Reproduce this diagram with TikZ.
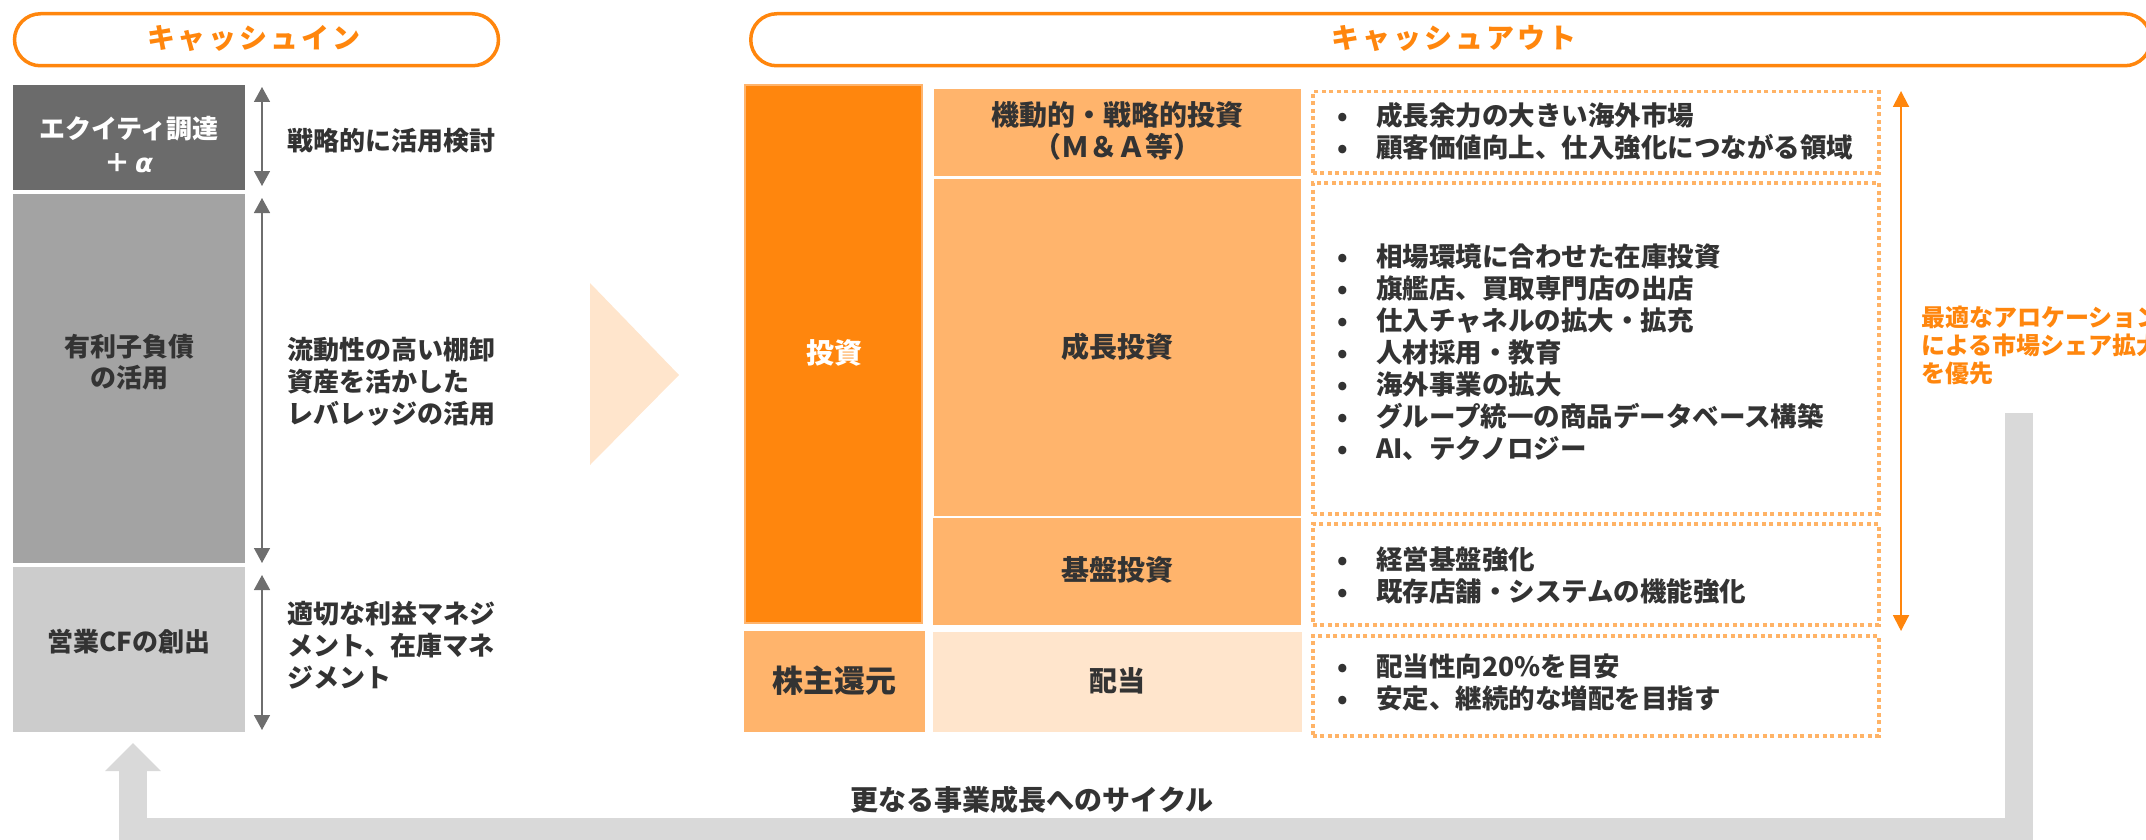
\documentclass[tikz,border=0pt]{standalone}
\usepackage{fontspec}
\setmainfont{Noto Sans CJK JP}
\newfontfamily\dvs{DejaVu Sans}
\usetikzlibrary{arrows.meta}
\definecolor{orgA}{HTML}{FF860D}
\definecolor{orgB}{HTML}{FFB46C}
\definecolor{orgC}{HTML}{FFE5CC}
\definecolor{dotc}{HTML}{FFB366}
\definecolor{grA}{HTML}{6B6B6B}
\definecolor{grB}{HTML}{A3A3A3}
\definecolor{grC}{HTML}{CCCCCC}
\definecolor{grD}{HTML}{D9D9D9}
\definecolor{arrc}{HTML}{6E6E6E}
\definecolor{txt}{HTML}{333333}
\newcommand{\bli}[1]{\makebox[30pt][c]{•}\hspace{18pt}#1}
\begin{document}
\begin{tikzpicture}[x=1pt,y=-1pt,
  blk/.style={draw=none,inner sep=0pt,outer sep=0pt,anchor=north west},
  lbl/.style={font=\fontsize{26}{32}\selectfont\bfseries,text=txt,align=center,inner sep=0pt},
  blbl/.style={font=\fontsize{28}{32}\selectfont\bfseries,text=txt,align=center,inner sep=0pt},
  side/.style={font=\fontsize{26}{32}\selectfont\bfseries,text=txt,align=left,anchor=west,inner sep=0pt},
  bside/.style={font=\fontsize{26.5}{32}\selectfont\bfseries,text=txt,align=left,anchor=west,inner sep=0pt},
  dotbox/.style={draw=dotc,line width=3.5pt,dash pattern=on 4pt off 3.5pt,inner sep=0pt,anchor=north west},
  pill/.style={draw=orgA,line width=3.5pt,rounded corners=26pt,inner sep=0pt,anchor=north west,minimum height=52pt},
  head/.style={font=\fontsize{28}{32}\selectfont\bfseries,text=orgA,inner sep=0pt},
  garrow/.style={draw=arrc,line width=1.5pt,{Triangle[length=15pt,width=16pt]}-{Triangle[length=15pt,width=16pt]}},
  oarrow/.style={draw=orgA,line width=2pt,{Triangle[length=16pt,width=16pt]}-{Triangle[length=16pt,width=16pt]}},
  bigarrow/.style={draw=grD,line width=28pt,miter limit=10,line join=miter,-{Triangle[length=28pt,width=54pt]}}
]
\useasboundingbox (0,0) rectangle (2146,840);

% background triangle
\fill[orgC] (590,283) -- (679,375) -- (590,465) -- cycle;

% big cycle arrow
\coordinate (cyA) at (2019,413);
\coordinate (cyB) at (2019,832);
\coordinate (cyC) at (133,832);
\coordinate (cyD) at (133,743);
\draw[bigarrow] (cyA) -- (cyB) -- (cyC) -- (cyD);

% headings
\node[pill,minimum width=484pt] (pin) at (12.75,12) {};
\node[head] (hin) at (254,38) {キ\kern3pt ャ\kern3pt ッ\kern3pt シ\kern3pt ュ\kern3pt イ\kern3pt ン};
\node[pill,minimum width=1400pt] (pout) at (749,12) {};
\node[head] (hout) at (1454,38) {キ\kern3pt ャ\kern3pt ッ\kern3pt シ\kern3pt ュ\kern3pt ア\kern3pt ウ\kern3pt ト};

% left boxes
\node[blk,fill=grA,minimum width=232pt,minimum height=105pt] (eq) at (13,85) {};
\node[blk,fill=grB,minimum width=232pt,minimum height=369pt] (debt) at (13,194) {};
\node[blk,fill=grC,minimum width=232pt,minimum height=165pt] (ocf) at (13,567) {};
\node[lbl,text=white,font=\fontsize{26}{34}\selectfont\bfseries] (eqt) at (129,145) {エクイティ調達\\＋\,{\dvs\bfseries\itshape α}};
\node[lbl,font=\fontsize{26}{31}\selectfont\bfseries] (debtt) at (129,362) {有利子負債\\の活用};
\node[lbl] (ocft) at (129,642) {営業CFの創出};

% left arrows
\coordinate (a1t) at (262,87); \coordinate (a1b) at (262,186);
\coordinate (a2t) at (262,198); \coordinate (a2b) at (262,563);
\coordinate (a3t) at (262,575); \coordinate (a3b) at (262,730);
\draw[garrow] (a1t) -- (a1b);
\draw[garrow] (a2t) -- (a2b);
\draw[garrow] (a3t) -- (a3b);

\node[side] (s1) at (287,141) {戦略的に活用検討};
\node[side] (s2) at (287,382) {流動性の高い棚卸\\資産を活かした\\レバレッジの活用};
\node[side] (s3) at (287,645) {適切な利益マネジ\\メント、在庫マネ\\ジメント};

% cash out boxes
\node[blk,fill=orgA,draw=orgB,line width=2pt,minimum width=177pt,minimum height=538pt] (inv) at (745,85) {};
\node[blbl,text=white] (invt) at (834,353) {投資};
\node[blk,fill=orgB,minimum width=367pt,minimum height=87pt] (ma) at (934,89) {};
\node[blbl] (mat) at (1117,131) {機動的・戦略的投資\\（Ｍ＆Ａ等）};
\node[blk,fill=orgB,minimum width=367pt,minimum height=337pt] (gro) at (934,179) {};
\node[blbl] (grot) at (1117,347) {成長投資};
\node[blk,fill=orgB,minimum width=368pt,minimum height=107pt] (base) at (933,518) {};
\node[blbl] (baset) at (1117,570) {基盤投資};
\node[blk,fill=orgB,minimum width=181pt,minimum height=101pt] (sh) at (744,631) {};
\node[blbl,font=\fontsize{31}{34}\selectfont\bfseries] (sht) at (834,681) {株主還元};
\node[blk,fill=orgC,minimum width=369pt,minimum height=100pt] (div) at (933,632) {};
\node[blbl] (divt) at (1117,681) {配当};

% dotted boxes
\node[dotbox,minimum width=566pt,minimum height=81pt] (d1) at (1311,90) {};
\node[dotbox,minimum width=566pt,minimum height=331pt] (d2) at (1311,181) {};
\node[dotbox,minimum width=566pt,minimum height=101pt] (d3) at (1311,522) {};
\node[dotbox,minimum width=566pt,minimum height=100pt] (d4) at (1311,634) {};

\node[bside] (b1) at (1328,131) {\bli{成長余力の大きい海外市場}\\\bli{顧客価値向上、仕入強化につながる領域}};
\node[bside] (b2) at (1328,352) {\bli{相場環境に合わせた在庫投資}\\\bli{旗艦店、買取専門店の出店}\\\bli{仕入チャネルの拡大・拡充}\\\bli{人材採用・教育}\\\bli{海外事業の拡大}\\\bli{グループ統一の商品データベース構築}\\\bli{AI、テクノロジー}};
\node[bside] (b3) at (1328,575) {\bli{経営基盤強化}\\\bli{既存店舗・システムの機能強化}};
\node[bside] (b4) at (1328,683) {\bli{配当性向20\%を目安}\\\bli{安定、継続的な増配を目指す}};

% orange arrow
\coordinate (o1) at (1901,91); \coordinate (o2) at (1901,631);
\draw[oarrow] (o1) -- (o2);
\node[side,text=orgA,font=\fontsize{24}{28}\selectfont\bfseries] (ot) at (1921,345) {最適なアロケーション\\による市場シェア拡大\\を優先};

% bottom label
\node[blbl] (cyc) at (1032,800) {更なる事業成長へのサイクル};
\end{tikzpicture}
\end{document}
